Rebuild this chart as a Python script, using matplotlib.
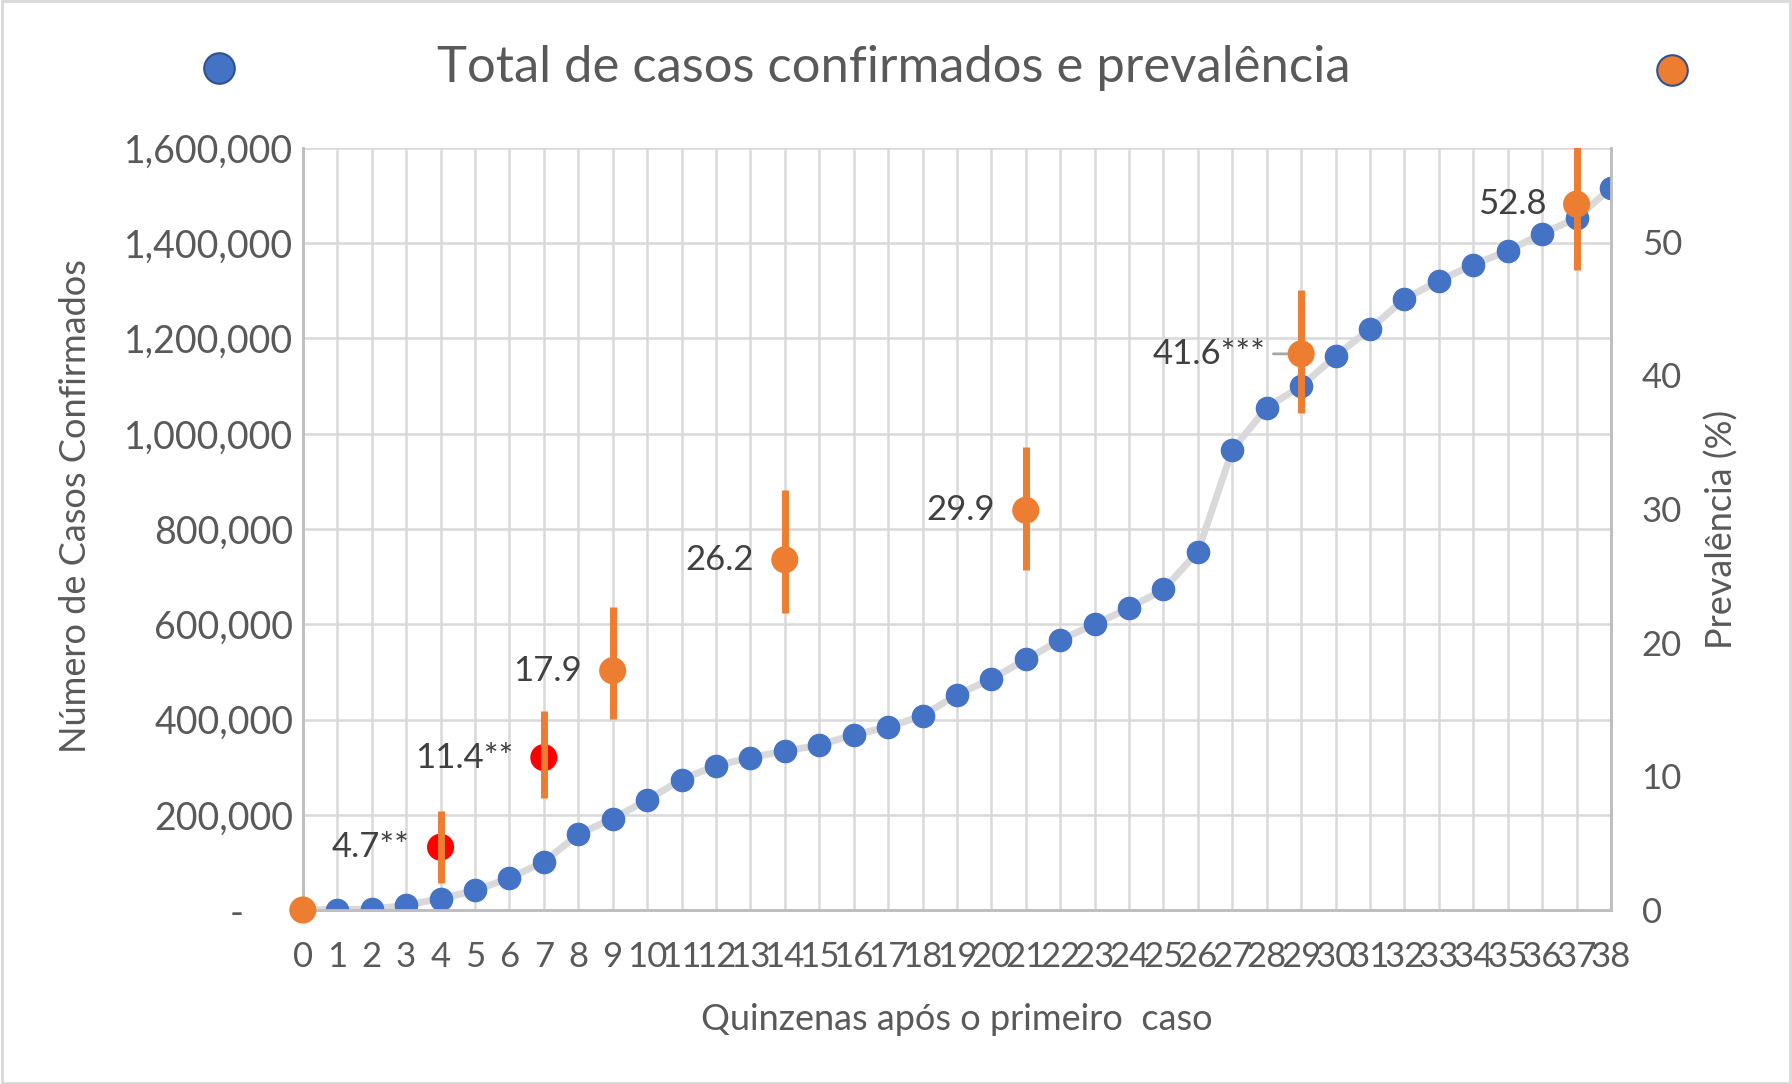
import matplotlib
matplotlib.use("Agg")
import matplotlib.pyplot as plt
from matplotlib.lines import Line2D
from matplotlib.patches import Rectangle
from matplotlib.transforms import ScaledTranslation

plt.rcParams['font.family'] = ['Lato', 'DejaVu Sans']

# dados
quinzenas = list(range(39))
casos = [0, 1000, 2000, 10000, 24000, 41000, 67000, 101000, 159000, 192000,
         231000, 274000, 303000, 320000, 334000, 346000, 368000, 384000, 408000, 452000,
         485000, 526000, 567000, 600000, 634000, 673000, 752000, 966000, 1055000, 1100000,
         1163000, 1220000, 1283000, 1321000, 1355000, 1384000, 1420000, 1453000, 1516000]

prev_x = [0, 4, 7, 9, 14, 21, 29, 37]
prev_val = [0, 4.7, 11.4, 17.9, 26.2, 29.9, 41.6, 52.8]
prev_low = [0, 2.0, 8.4, 14.3, 22.2, 25.4, 37.2, 47.9]
prev_high = [0, 7.4, 14.9, 22.7, 31.4, 34.6, 46.4, 57.7]
prev_rotulos = ['', '4.7**', '11.4**', '17.9', '26.2', '29.9', '41.6***', '52.8']
destaque = [4, 7]  # pontos em vermelho

y_ticks = [0, 200000, 400000, 600000, 800000, 1000000, 1200000, 1400000, 1600000]
y2_ticks = [0, 10, 20, 30, 40, 50]

azul = '#4472C4'
laranja = '#ED7D31'
cinza = '#D9D9D9'
texto = '#595959'

fig = plt.figure(figsize=(17.92, 10.84), dpi=100)
ax = fig.add_axes([0.169, 0.1605, 0.730, 0.703])
ax2 = ax.twinx()

# casos confirmados
ax.plot(quinzenas, casos, color=cinza, lw=5, zorder=2, solid_capstyle='round')
ax.plot(quinzenas, casos, 'o', color=azul, ms=16, zorder=3)

ax.set_xlim(0, 38)
ax.set_ylim(0, 1600000)
ax.set_xticks(quinzenas)
ax.set_xticklabels([str(q) for q in quinzenas])
ax.set_yticks(y_ticks)
ax.set_yticklabels(['-'] + [f'{v:,}' for v in y_ticks[1:]])
ax.grid(True, color=cinza, lw=1.8, zorder=0)
ax.set_axisbelow(True)
ax.tick_params(axis='x', length=0, labelsize=25, labelcolor=texto, pad=22)
ax.tick_params(axis='y', length=0, labelsize=27, labelcolor=texto, pad=7)
lbl0 = ax.get_yticklabels()[0]
lbl0.set_transform(lbl0.get_transform() + ScaledTranslation(-0.5, 0, fig.dpi_scale_trans))

for sp in ['top']:
    ax.spines[sp].set_visible(False)
    ax2.spines[sp].set_visible(False)
for a in (ax, ax2):
    for sp in ['left', 'bottom', 'right']:
        a.spines[sp].set_color('#BFBFBF')
        a.spines[sp].set_linewidth(2)

ax.set_ylabel('Número de Casos Confirmados', fontsize=26, color=texto)
ax.yaxis.set_label_coords(-0.161, 0.53)
ax.set_xlabel('Quinzenas após o primeiro  caso', fontsize=26, color=texto, labelpad=22)

# prevalência
ax2.set_ylim(0, 57)
yerr = [[v - lo for v, lo in zip(prev_val, prev_low)],
        [hi - v for v, hi in zip(prev_val, prev_high)]]
cores = ['red' if x in destaque else laranja for x in prev_x]
ax2.scatter(prev_x, prev_val, s=380, c=cores, zorder=4, clip_on=False, linewidths=0)
ax2.errorbar(prev_x[1:], prev_val[1:], yerr=[yerr[0][1:], yerr[1][1:]], fmt='none',
             ecolor=laranja, elinewidth=5, capsize=0, zorder=5)
for x, v, r in zip(prev_x, prev_val, prev_rotulos):
    if not r:
        continue
    if r.endswith('***'):
        ax2.annotate(r, (x, v), xytext=(-26, 0), textcoords='offset points',
                     ha='right', va='center', fontsize=25, color='#404040', zorder=3,
                     arrowprops=dict(arrowstyle='-', color='#A6A6A6', lw=2,
                                     shrinkA=4, shrinkB=9))
    else:
        ax2.annotate(r, (x, v), xytext=(-22, 0), textcoords='offset points',
                     ha='right', va='center', fontsize=25, color='#404040', zorder=6)
ax2.set_yticks(y2_ticks)
ax2.tick_params(axis='y', length=0, labelsize=25, labelcolor=texto, pad=22)
ax2.set_ylabel('Prevalência (%)', fontsize=26, color=texto, labelpad=16)

# título e legenda
fig.text(0.499, 0.937, 'Total de casos confirmados e prevalência', ha='center', va='center',
         fontsize=36.5, color=texto)
fig.add_artist(Line2D([0.122], [0.937], marker='o', ms=22, color=azul, mec='#2F528F',
                      mew=1.5, transform=fig.transFigure))
fig.add_artist(Line2D([0.933], [0.935], marker='o', ms=22, color=laranja, mec='#2F528F',
                      mew=1.5, transform=fig.transFigure))

fig.add_artist(Rectangle((0.001, 0.001), 0.998, 0.998, transform=fig.transFigure,
                         fill=False, edgecolor=cinza, lw=2))

fig.savefig('out.png', dpi=100)
